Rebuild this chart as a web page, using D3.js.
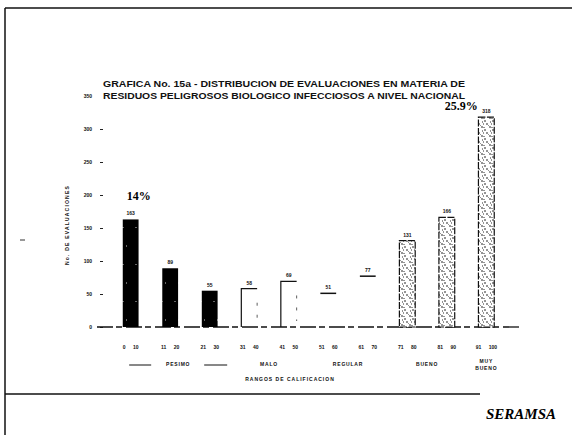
<!DOCTYPE html>
<html>
<head>
<meta charset="utf-8">
<script src="https://cdn.jsdelivr.net/npm/d3@7"></script>
<style>
  body { margin: 0; background: #fff; }
  svg { display: block; }
  .tiny { font-family: "Liberation Sans", Arial, sans-serif; font-weight: bold; fill: #111; }
</style>
</head>
<body>
<div id="viz"></div>
<script>
const W = 572, H = 435

// data
const ranges = ["0 10", "11 20", "21 30", "31 40", "41 50", "51 60", "61 70", "71 80", "81 90", "91 100"]
const evaluaciones = [163, 89, 55, 58, 69, 51, 77, 131, 166, 318]
const yTicks = [0, 50, 100, 150, 200, 250, 300, 350]
const grupos = ["PESIMO", "MALO", "REGULAR", "BUENO", "MUY BUENO"]
const grupoDesde = [0, 3, 5, 7, 9]
const grupoHasta = [2, 4, 6, 8, 9]
const porcentajes = [{ i: 0, txt: "14%" }, { i: 9, txt: "25.9%" }]

const title1 = "GRAFICA No. 15a - DISTRIBUCION DE EVALUACIONES EN MATERIA DE"
const title2 = "RESIDUOS PELIGROSOS BIOLOGICO INFECCIOSOS A NIVEL NACIONAL"

const svg = d3.select("#viz").append("svg").attr("width", W).attr("height", H)

// slide frame
svg.append("line").attr("x1", 5).attr("x2", W).attr("y1", 8).attr("y2", 8)
    .attr("stroke", "#111").attr("stroke-width", 1.5)
svg.append("line").attr("x1", 5).attr("x2", 5).attr("y1", 8).attr("y2", H)
    .attr("stroke", "#111").attr("stroke-width", 1.5)
svg.append("line").attr("x1", 5).attr("x2", 480).attr("y1", 394).attr("y2", 394)
    .attr("stroke", "#111").attr("stroke-width", 1.6)
svg.append("line").attr("x1", 20).attr("x2", 25).attr("y1", 240).attr("y2", 240)
    .attr("stroke", "#333").attr("stroke-width", 1)

svg.append("text").attr("x", 556).attr("y", 419).attr("text-anchor", "end")
    .style("font-family", "'Liberation Serif', 'Times New Roman', serif")
    .style("font-style", "italic").style("font-weight", "bold").style("font-size", "15px")
    .text("SERAMSA")

// titles
svg.append("text").attr("class", "tiny").attr("x", 103).attr("y", 87)
    .attr("textLength", 362).attr("lengthAdjust", "spacingAndGlyphs")
    .style("font-size", "9px").text(title1)
svg.append("text").attr("class", "tiny").attr("x", 103).attr("y", 99)
    .attr("textLength", 362).attr("lengthAdjust", "spacingAndGlyphs")
    .style("font-size", "9px").text(title2)

// scales
const x = d3.scaleBand().domain(ranges).range([103, 514]).paddingInner(0.6).paddingOuter(0.5)
const y = d3.scaleLinear().domain([0, 300]).range([327, 129])

// speckle pattern for the BUENO bars
const defs = svg.append("defs")
const pat = defs.append("pattern").attr("id", "speck").attr("patternUnits", "userSpaceOnUse")
    .attr("width", 8).attr("height", 9)
pat.append("rect").attr("width", 8).attr("height", 9).attr("fill", "#fff")
pat.append("path").attr("d", "M1,1h2M5,3v2M2,5h1M6,7h2M0,8v1M4,1v1M3,7h1")
    .attr("stroke", "#111").attr("stroke-width", 0.9)
const pat2 = defs.append("pattern").attr("id", "flecks").attr("patternUnits", "userSpaceOnUse")
    .attr("width", 13).attr("height", 37)
pat2.append("rect").attr("width", 13).attr("height", 37).attr("fill", "#000")
pat2.append("path").attr("d", "M6,5v1M9,24h1")
    .attr("stroke", "#fff").attr("stroke-width", 0.8)

const estilo = i => {
    const g = grupoDesde.findIndex((d, k) => i >= d && i <= grupoHasta[k])
    return ["solid", "open", "top", "dotted", "dotted"][g]
}

// y axis (tick marks and tiny labels only)
const yAxis = svg.append("g").attr("transform", "translate(103,0)")
    .call(d3.axisLeft(y).tickValues(yTicks).tickSize(3).tickPadding(8))
yAxis.select(".domain").remove()
yAxis.selectAll("text").attr("class", "tiny").style("font-size", "5px")
yAxis.selectAll("line").attr("stroke", "#222")
// the top tick has no mark in the scan
yAxis.selectAll(".tick").filter(d => d === 350).select("line").remove()

svg.append("text").attr("class", "tiny")
    .attr("transform", "translate(69,225) rotate(-90)")
    .attr("text-anchor", "middle").attr("letter-spacing", "1.2px").style("font-size", "5px")
    .text("No. DE EVALUACIONES")

// baseline, broken like the scan
svg.append("line").attr("x1", 97).attr("x2", 520).attr("y1", y(0)).attr("y2", y(0))
    .attr("stroke", "#111").attr("stroke-width", 1.3).attr("stroke-dasharray", "16,3,6,4")

// bars
const bars = svg.append("g")
evaluaciones.forEach((v, i) => {
    const s = estilo(i), x0 = x(ranges[i]), bw = x.bandwidth(), y0 = y(v), y1 = y(0)
    if (s === "solid") {
        bars.append("rect").attr("x", x0).attr("y", y0).attr("width", bw).attr("height", y1 - y0)
            .attr("fill", "url(#flecks)")
    } else if (s === "open") {
        bars.append("path").attr("d", `M${x0},${y1}V${y0}H${x0 + bw}`)
            .attr("fill", "none").attr("stroke", "#111").attr("stroke-width", 1.2)
        bars.append("line").attr("x1", x0 + bw).attr("x2", x0 + bw).attr("y1", y0 + 14).attr("y2", y1 - 6)
            .attr("stroke", "#333").attr("stroke-width", 0.8).attr("stroke-dasharray", "3,9")
    } else if (s === "top") {
        bars.append("line").attr("x1", x0).attr("x2", x0 + bw).attr("y1", y0).attr("y2", y0)
            .attr("stroke", "#111").attr("stroke-width", 1.5)
    } else {
        bars.append("rect").attr("x", x0).attr("y", y0).attr("width", bw).attr("height", y1 - y0)
            .attr("fill", "url(#speck)").attr("stroke", "#111").attr("stroke-width", 1.2)
            .attr("stroke-dasharray", "7,1.5")
    }
    bars.append("text").attr("class", "tiny").attr("x", x0 + bw / 2).attr("y", y0 - 4)
        .attr("text-anchor", "middle").style("font-size", "5px").text(v)
})

// percentage notes
porcentajes.forEach(p => {
    const cx = x(ranges[p.i]) + x.bandwidth() / 2
    const first = p.i === 0
    svg.append("text").attr("x", cx + (first ? 8 : -25)).attr("y", y(evaluaciones[p.i]) - (first ? 19 : 7))
        .attr("text-anchor", "middle")
        .style("font-family", "'Liberation Serif', serif").style("font-weight", "bold").style("font-size", "12px")
        .text(p.txt)
})

// range labels
ranges.forEach(r => {
    svg.append("text").attr("class", "tiny").attr("x", x(r) + x.bandwidth() / 2).attr("y", 349)
        .attr("text-anchor", "middle").attr("word-spacing", "6px").style("font-size", "5px").text(r)
})

// group labels
grupos.forEach((g, k) => {
    const cx = (x(ranges[grupoDesde[k]]) + x(ranges[grupoHasta[k]]) + x.bandwidth()) / 2
    const parts = g.split(" ")
    const t = svg.append("text").attr("class", "tiny").attr("text-anchor", "middle")
        .style("font-size", "5px").attr("letter-spacing", "0.8px")
    parts.forEach((p, j) => {
        t.append("tspan").attr("x", cx + (k === 0 ? 8 : 0))
            .attr("y", 366 + (j - (parts.length - 1)) * 7 + (parts.length > 1 ? 4 : 0)).text(p)
    })
    if (k === 0) {
        svg.append("line").attr("x1", cx - 41).attr("x2", cx - 19).attr("y1", 365).attr("y2", 365)
            .attr("stroke", "#111").attr("stroke-width", 1)
        svg.append("line").attr("x1", cx + 34).attr("x2", cx + 57).attr("y1", 365).attr("y2", 365)
            .attr("stroke", "#111").attr("stroke-width", 1)
    }
})

svg.append("text").attr("class", "tiny").attr("x", 290).attr("y", 381)
    .attr("text-anchor", "middle").attr("letter-spacing", "1px").style("font-size", "5px")
    .text("RANGOS DE CALIFICACION")
</script>
</body>
</html>
